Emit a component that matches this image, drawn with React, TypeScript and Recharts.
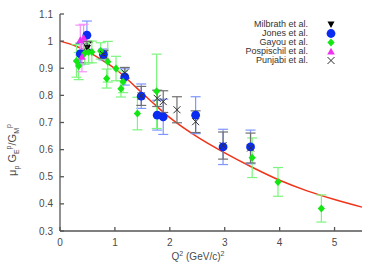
import * as React from 'react';
import { ComposedChart, Scatter, Line, XAxis, YAxis, ErrorBar, Legend } from 'recharts';

const X_TICKS = [0, 1, 2, 3, 4, 5];
const Y_TICKS = [0.3, 0.4, 0.5, 0.6, 0.7, 0.8, 0.9, 1.0, 1.1];

// Q^2, mu*GE/GM, error
const milbrath = [
  { x: 0.38, y: 0.955, e: 0.035 },
  { x: 0.5, y: 0.975, e: 0.02 },
];
const jones = [
  { x: 0.37, y: 0.953, e: 0.04 },
  { x: 0.49, y: 1.022, e: 0.052 },
  { x: 0.79, y: 0.951, e: 0.02 },
  { x: 1.18, y: 0.868, e: 0.03 },
  { x: 1.48, y: 0.797, e: 0.045 },
  { x: 1.77, y: 0.727, e: 0.055 },
  { x: 1.88, y: 0.721, e: 0.065 },
  { x: 2.47, y: 0.727, e: 0.068 },
  { x: 2.97, y: 0.61, e: 0.065 },
  { x: 3.47, y: 0.61, e: 0.062 },
];
const gayou = [
  { x: 0.3, y: 0.927, e: 0.06 },
  { x: 0.34, y: 0.908, e: 0.05 },
  { x: 0.45, y: 0.955, e: 0.04 },
  { x: 0.52, y: 0.96, e: 0.04 },
  { x: 0.58, y: 0.96, e: 0.04 },
  { x: 0.74, y: 0.964, e: 0.03 },
  { x: 0.87, y: 0.924, e: 0.075 },
  { x: 0.85, y: 0.862, e: 0.035 },
  { x: 1.02, y: 0.899, e: 0.045 },
  { x: 1.11, y: 0.824, e: 0.03 },
  { x: 1.15, y: 0.85, e: 0.04 },
  { x: 1.41, y: 0.733, e: 0.06 },
  { x: 1.76, y: 0.815, e: 0.137 },
  { x: 3.5, y: 0.57, e: 0.073 },
  { x: 3.97, y: 0.481, e: 0.053 },
  { x: 4.76, y: 0.383, e: 0.05 },
];
const pospischil = [
  { x: 0.37, y: 1.004, e: 0.055 },
  { x: 0.4, y: 0.942, e: 0.055 },
  { x: 0.43, y: 1.012, e: 0.05 },
];
const punjabi = [
  { x: 0.49, y: 0.979, e: 0.02 },
  { x: 0.79, y: 0.951, e: 0.015 },
  { x: 1.18, y: 0.883, e: 0.02 },
  { x: 1.48, y: 0.798, e: 0.035 },
  { x: 1.77, y: 0.789, e: 0.03 },
  { x: 1.88, y: 0.777, e: 0.04 },
  { x: 2.13, y: 0.747, e: 0.048 },
  { x: 2.47, y: 0.703, e: 0.04 },
  { x: 2.97, y: 0.615, e: 0.05 },
  { x: 3.47, y: 0.606, e: 0.055 },
];
// fit curve
const fit = [
  { x: 0, y: 1.0 },
  { x: 0.25, y: 0.985 },
  { x: 0.5, y: 0.962 },
  { x: 0.75, y: 0.932 },
  { x: 1.0, y: 0.899 },
  { x: 1.25, y: 0.855 },
  { x: 1.5, y: 0.808 },
  { x: 1.75, y: 0.762 },
  { x: 2.0, y: 0.718 },
  { x: 2.5, y: 0.647 },
  { x: 3.0, y: 0.588 },
  { x: 3.5, y: 0.535 },
  { x: 4.0, y: 0.487 },
  { x: 4.5, y: 0.448 },
  { x: 5.0, y: 0.416 },
  { x: 5.5, y: 0.388 },
];

const FONT = '"Liberation Sans", Arial, sans-serif';
const AXIS_COLOR = '#555555';
const TEXT_COLOR = '#4a4a4a';

const COLORS = {
  milbrath: '#000000',
  jones: '#0a2cf0',
  jonesBar: '#7f96ff',
  gayou: '#14e614',
  gayouBar: '#7cf57c',
  pospischil: '#f030f0',
  pospischilBar: '#f890f8',
  punjabi: '#303030',
  punjabiBar: '#707070',
  fit: '#f0341a',
};

type ShapeProps = { cx?: number; cy?: number };

const TriDown = ({ cx = 0, cy = 0 }: ShapeProps) => (
  <path d={`M${cx - 3.5},${cy - 3}L${cx + 3.5},${cy - 3}L${cx},${cy + 3.5}Z`} fill={COLORS.milbrath} />
);
const Dot = ({ cx = 0, cy = 0 }: ShapeProps) => <circle cx={cx} cy={cy} r={4.4} fill={COLORS.jones} />;
const Diamond = ({ cx = 0, cy = 0 }: ShapeProps) => (
  <path d={`M${cx},${cy - 4}L${cx + 3.6},${cy}L${cx},${cy + 4}L${cx - 3.6},${cy}Z`} fill={COLORS.gayou} />
);
const TriUp = ({ cx = 0, cy = 0 }: ShapeProps) => (
  <path d={`M${cx - 3.8},${cy + 3}L${cx + 3.8},${cy + 3}L${cx},${cy - 3.8}Z`} fill={COLORS.pospischil} />
);
const Cross = ({ cx = 0, cy = 0 }: ShapeProps) => (
  <path
    d={`M${cx - 3.5},${cy - 3.5}L${cx + 3.5},${cy + 3.5}M${cx - 3.5},${cy + 3.5}L${cx + 3.5},${cy - 3.5}`}
    stroke={COLORS.punjabi}
    strokeWidth={1}
    fill="none"
  />
);

const SERIES = [
  { name: 'Milbrath et al.', Shape: TriDown },
  { name: 'Jones et al.', Shape: Dot },
  { name: 'Gayou et al.', Shape: Diamond },
  { name: 'Pospischil et al.', Shape: TriUp },
  { name: 'Punjabi et al.', Shape: Cross },
];

const LegendBox = () => (
  <div style={{ fontFamily: FONT, fontSize: 9, color: '#333' }}>
    {SERIES.map(({ name, Shape }) => (
      <div key={name} style={{ display: 'flex', alignItems: 'center', height: 9.2 }}>
        <span style={{ width: 110, textAlign: 'right', lineHeight: '9px', whiteSpace: 'nowrap' }}>{name}</span>
        <svg width={46} height={9} style={{ overflow: 'visible' }}>
          <Shape cx={23} cy={4.5} />
        </svg>
      </div>
    ))}
  </div>
);

const YTitle = () => (
  <text
    x={16}
    y={150}
    transform="rotate(-90 16 150)"
    textAnchor="middle"
    fontFamily={FONT}
    fontSize={11}
    fill={TEXT_COLOR}
  >
    μ<tspan dy={3} fontSize={7}>p</tspan>
    <tspan dy={-3}> G</tspan>
    <tspan dy={3} fontSize={7}>E</tspan>
    <tspan dy={-8} fontSize={7}>p</tspan>
    <tspan dy={5}>/G</tspan>
    <tspan dy={3} fontSize={7}>M</tspan>
    <tspan dy={-8} fontSize={7}>p</tspan>
  </text>
);

const XTitle = () => (
  <text x={198} y={260} textAnchor="middle" fontFamily={FONT} fontSize={10} fill={TEXT_COLOR}>
    Q<tspan dy={-4} fontSize={7}>2</tspan>
    <tspan dy={4}>{'  (GeV/c)'}</tspan>
    <tspan dy={-4} fontSize={7}>2</tspan>
  </text>
);

const tickStyle = { fill: TEXT_COLOR, fontSize: 10, fontFamily: FONT };
const Empty = () => <g />;

export default function App() {
  return (
    <div style={{ position: 'absolute', left: 0, top: 0, width: 382, height: 267, background: '#fff' }}>
      <ComposedChart width={382} height={267} margin={{ top: 14, right: 20, bottom: 0, left: 0 }}>
        <XAxis
          xAxisId="b"
          dataKey="x"
          type="number"
          domain={[0, 5.5]}
          ticks={X_TICKS}
          height={36}
          tickSize={-4}
          tickMargin={12}
          tick={tickStyle}
          stroke={AXIS_COLOR}
          strokeWidth={1.3}
          label={<XTitle />}
        />
        <XAxis
          xAxisId="t"
          orientation="top"
          dataKey="x"
          type="number"
          domain={[0, 5.5]}
          ticks={X_TICKS}
          height={0}
          tickSize={-4}
          tick={false}
          stroke={AXIS_COLOR}
          strokeWidth={1.3}
        />
        <YAxis
          yAxisId="l"
          dataKey="y"
          type="number"
          domain={[0.3, 1.1]}
          ticks={Y_TICKS}
          width={60}
          tickSize={-4}
          tickMargin={11}
          tick={tickStyle}
          tickFormatter={(v: number) => String(Math.round(v * 10) / 10)}
          stroke={AXIS_COLOR}
          strokeWidth={1.3}
          label={<YTitle />}
        />
        <YAxis
          yAxisId="r"
          orientation="right"
          dataKey="y"
          type="number"
          domain={[0.3, 1.1]}
          ticks={Y_TICKS}
          width={0}
          tickSize={-4}
          tick={false}
          stroke={AXIS_COLOR}
          strokeWidth={1.3}
        />
        <Legend
          layout="horizontal"
          verticalAlign="middle"
          align="center"
          content={<LegendBox />}
          wrapperStyle={{ top: 19.5, left: 198, width: 160, bottom: 'auto', right: 'auto' }}
        />
        <Line
          xAxisId="b"
          yAxisId="l"
          data={fit}
          dataKey="y"
          type="monotone"
          dot={false}
          activeDot={false}
          stroke={COLORS.fit}
          strokeWidth={1.5}
          legendType="none"
          isAnimationActive={false}
        />
        <Scatter xAxisId="b" yAxisId="l" name="Milbrath et al." data={milbrath} shape={<TriDown />} isAnimationActive={false}>
          <ErrorBar dataKey="e" direction="y" width={5} stroke={COLORS.milbrath} strokeWidth={1} />
        </Scatter>
        <Scatter xAxisId="b" yAxisId="l" name="Jones et al." data={jones} shape={<Dot />} isAnimationActive={false}>
          <ErrorBar dataKey="e" direction="y" width={5} stroke={COLORS.jonesBar} strokeWidth={1.2} />
        </Scatter>
        <Scatter xAxisId="b" yAxisId="l" name="Gayou et al." data={gayou} shape={<Diamond />} isAnimationActive={false}>
          <ErrorBar dataKey="e" direction="y" width={5} stroke={COLORS.gayouBar} strokeWidth={1.2} />
        </Scatter>
        <Scatter xAxisId="b" yAxisId="l" name="Pospischil et al." data={pospischil} shape={<TriUp />} isAnimationActive={false}>
          <ErrorBar dataKey="e" direction="y" width={5} stroke={COLORS.pospischilBar} strokeWidth={1.2} />
        </Scatter>
        <Scatter xAxisId="b" yAxisId="l" name="Punjabi et al." data={punjabi} shape={<Cross />} isAnimationActive={false}>
          <ErrorBar dataKey="e" direction="y" width={5} stroke={COLORS.punjabiBar} strokeWidth={1.2} />
        </Scatter>
        <Scatter xAxisId="t" yAxisId="r" data={[]} shape={<Empty />} legendType="none" isAnimationActive={false} />
      </ComposedChart>
    </div>
  );
}
